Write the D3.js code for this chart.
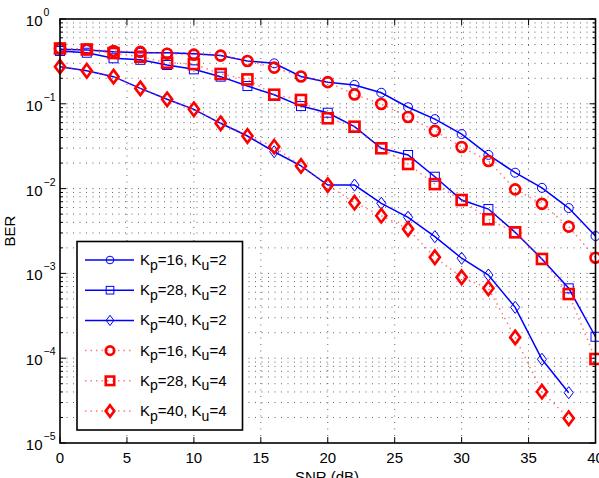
<!DOCTYPE html>
<html><head><meta charset="utf-8">
<script src="https://cdn.jsdelivr.net/npm/d3@7"></script>
<style>body{margin:0;background:#fff}svg{display:block}text{font-family:"Liberation Sans",Arial,sans-serif;fill:#000}</style>
</head><body><svg id="c" width="599" height="478"></svg>
<script>
// ---- data ----
const snr = [0,2,4,6,8,10,12,14,16,18,20,22,24,26,28,30,32,34,36,38,40];
const snrD = [0,2,4,6,8,10,12,14,16,18,20,22,24,26,28,30,32,34,36,38];
const kp16ku2 = [0.44,0.43,0.41,0.40,0.40,0.39,0.37,0.32,0.30,0.21,0.18,0.167,0.135,0.091,0.066,0.044,0.025,0.0154,0.0102,0.0059,0.00276];
const kp28ku2 = [0.42,0.40,0.344,0.33,0.287,0.255,0.209,0.162,0.128,0.094,0.0785,0.0537,0.0299,0.0249,0.0138,0.00734,0.00574,0.00305,0.00148,0.000667,0.000179];
const kp40ku2 = [0.274,0.2455,0.209,0.152,0.113,0.0861,0.0589,0.0417,0.0272,0.0185,0.0110,0.0110,0.00671,0.00459,0.00271,0.00151,0.000957,0.000398,0.0000971,0.0000392];
const kp16ku4 = [0.45,0.44,0.42,0.41,0.39,0.38,0.37,0.32,0.267,0.21,0.18,0.129,0.0995,0.070,0.048,0.031,0.0212,0.0098,0.0066,0.00356,0.00153];
const kp28ku4 = [0.449,0.437,0.397,0.359,0.305,0.294,0.225,0.194,0.128,0.111,0.0675,0.0537,0.0299,0.0195,0.0113,0.00734,0.00435,0.00305,0.00148,0.000571,0.0000979];
const kp40ku4 = [0.274,0.2455,0.209,0.152,0.113,0.0861,0.0589,0.0417,0.0312,0.0185,0.0110,0.00682,0.00479,0.00334,0.00155,0.00090,0.000667,0.000176,0.0000403,0.0000196];
const xTicks = [0,5,10,15,20,25,30,35,40];
const yExps = [0,-1,-2,-3,-4,-5];
const legendKp = ["16","28","40","16","28","40"];
const legendKu = ["2","2","2","4","4","4"];

const series = [
  {x:snr, y:kp16ku2, m:"circle", red:false},
  {x:snr, y:kp28ku2, m:"square", red:false},
  {x:snrD, y:kp40ku2, m:"diamond", red:false},
  {x:snr, y:kp16ku4, m:"circle", red:true},
  {x:snr, y:kp28ku4, m:"square", red:true},
  {x:snrD, y:kp40ku4, m:"diamond", red:true}
];

const svg = d3.select("#c");
const L=60, R=595.5, T=19, B=443;
const x = d3.scaleLinear().domain([0,40]).range([L,R]);
const y = d3.scaleLog().domain([1e-5,1]).range([B,T]);

// grid
const g = svg.append("g");
const minorVals = [];
for (let e=-5;e<0;e++) for (let k=1;k<10;k++) minorVals.push(k*Math.pow(10,e));
minorVals.push(1);
g.selectAll("line.hg").data(minorVals.filter(v=>v>1e-5&&v<1)).enter().append("line")
  .attr("x1",L).attr("x2",R).attr("y1",d=>y(d)).attr("y2",d=>y(d))
  .attr("stroke","#666").attr("stroke-width",1).attr("stroke-dasharray","1,5.5");
g.selectAll("line.vg").data(xTicks.filter(v=>v>0&&v<40)).enter().append("line")
  .attr("x1",d=>x(d)).attr("x2",d=>x(d)).attr("y1",T).attr("y2",B)
  .attr("stroke","#666").attr("stroke-width",1).attr("stroke-dasharray","1,5.5");

// ticks
const tk = svg.append("g").attr("stroke","#000").attr("stroke-width",1);
xTicks.forEach(v=>{
  tk.append("line").attr("x1",x(v)).attr("x2",x(v)).attr("y1",B).attr("y2",B-6);
  tk.append("line").attr("x1",x(v)).attr("x2",x(v)).attr("y1",T).attr("y2",T+6);
});
minorVals.forEach(v=>{
  const isMaj = Math.abs(Math.log10(v)-Math.round(Math.log10(v)))<1e-9;
  const len = isMaj?6:3;
  tk.append("line").attr("x1",L).attr("x2",L+len).attr("y1",y(v)).attr("y2",y(v));
  tk.append("line").attr("x1",R).attr("x2",R-len).attr("y1",y(v)).attr("y2",y(v));
});

// lines
const line = d3.line().x(d=>x(d[0])).y(d=>y(d[1]));
series.forEach(s=>{
  const pts = s.x.map((v,i)=>[v,s.y[i]]);
  svg.append("path").datum(pts).attr("d",line).attr("fill","none")
    .attr("stroke", s.red?"#ff3333":"#0000ff")
    .attr("stroke-width", 1.5)
    .attr("stroke-dasharray", s.red?"1.5,4":null)
    .attr("stroke-opacity", s.red?0.65:1);
});

function marker(sel, type, red, sc){
  const r = (red?5:4.5)*sc;
  let p;
  if(type==="circle") p = sel.append("circle").attr("r",r);
  else if(type==="square") p = sel.append("rect").attr("x",-r).attr("y",-r).attr("width",2*r).attr("height",2*r);
  else { const d=r*1.35; p = sel.append("path").attr("d",`M0,${-d}L${d*0.75},0L0,${d}L${-d*0.75},0Z`); }
  p.attr("fill","none").attr("stroke",red?"#ff0000":"#0000ff").attr("stroke-width",red?2.6:1);
}
series.forEach(s=>{
  s.x.forEach((v,i)=>{
    const gg = svg.append("g").attr("transform",`translate(${x(v)},${y(s.y[i])})`);
    marker(gg, s.m, s.red, 1);
  });
});

// frame
svg.append("rect").attr("x",L).attr("y",T).attr("width",R-L).attr("height",B-T)
  .attr("fill","none").attr("stroke","#000").attr("stroke-width",1.6);

// tick labels
xTicks.forEach(v=>{
  svg.append("text").attr("x",x(v)).attr("y",463).attr("text-anchor","middle")
    .attr("font-size",15).text(v);
});
yExps.forEach(e=>{
  const yy = y(Math.pow(10,e));
  svg.append("text").attr("x",42.5).attr("y",yy+7).attr("text-anchor","end").attr("font-size",15).text("10");
  svg.append("text").attr("x",43.5).attr("y",yy-3).attr("font-size",10.5).text(e===0?"0":"\u2212"+(-e));
});
svg.append("text").attr("x",327).attr("y",482).attr("text-anchor","middle").attr("font-size",15).text("SNR (dB)");
svg.append("text").attr("transform","translate(15,231) rotate(-90)").attr("text-anchor","middle").attr("font-size",15).text("BER");

// legend
const lg = svg.append("g");
lg.append("rect").attr("x",77).attr("y",241.5).attr("width",165.5).attr("height",188.5)
  .attr("fill","#fff").attr("stroke","#000").attr("stroke-width",1.6);
series.forEach((s,i)=>{
  const yy = 260 + i*30.2;
  lg.append("line").attr("x1",85).attr("x2",134).attr("y1",yy).attr("y2",yy)
    .attr("stroke", s.red?"#ff3333":"#0000ff").attr("stroke-width",1.5)
    .attr("stroke-dasharray", s.red?"1.5,4":null).attr("stroke-opacity", s.red?0.65:1);
  marker(lg.append("g").attr("transform",`translate(110,${yy})`), s.m, s.red, 0.85);
  const t = lg.append("text").attr("x",140).attr("y",yy+5).attr("font-size",15);
  t.append("tspan").text("K");
  t.append("tspan").attr("dy",4.5).attr("font-size",14).text("p");
  t.append("tspan").attr("dy",-4.5).text("="+legendKp[i]+", K");
  t.append("tspan").attr("dy",4.5).attr("font-size",14).text("u");
  t.append("tspan").attr("dy",-4.5).text("="+legendKu[i]);
});
</script></body></html>
